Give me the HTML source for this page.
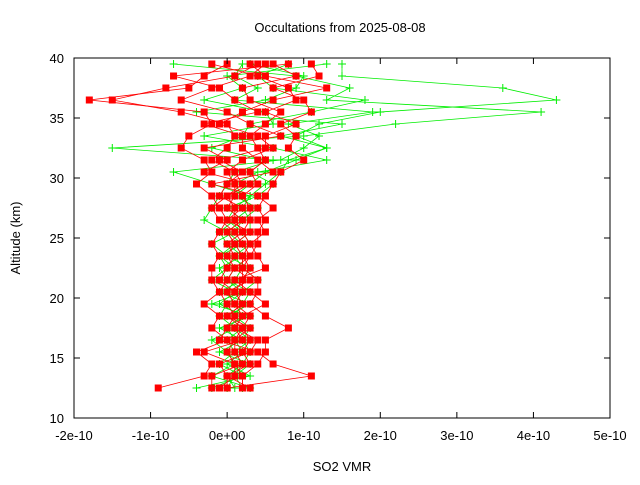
<!DOCTYPE html>
<html><head><meta charset="utf-8"><style>
body{margin:0;background:#fff;font-family:"Liberation Sans",sans-serif}
svg text{font-family:"Liberation Sans",sans-serif;font-size:13px;fill:#000}
</style></head><body>
<svg id="chart" width="640" height="480" xmlns="http://www.w3.org/2000/svg">
<text x="340" y="32" text-anchor="middle">Occultations from 2025-08-08</text>
<text x="342" y="471" text-anchor="middle">SO2 VMR</text>
<text transform="translate(20,238) rotate(-90)" text-anchor="middle">Altitude (km)</text>
<g id="series"></g>
<g id="axes"></g>
</svg>
<script>
const altitudes=[39.5,38.5,37.5,36.5,35.5,34.5,33.5,32.5,31.5,30.5,29.5,28.5,27.5,26.5,25.5,24.5,23.5,22.5,21.5,20.5,19.5,18.5,17.5,16.5,15.5,14.5,13.5,12.5];
const xTicks=[-2,-1,0,1,2,3,4,5];
const xTickLabels=["-2e-10","-1e-10","0e+00","1e-10","2e-10","3e-10","4e-10","5e-10"];
const yTicks=[10,15,20,25,30,35,40];
const red1=[0.0,-0.3,-0.5,-1.8,-0.3,-0.2,-0.5,-0.6,-0.3,-0.2,-0.4,-0.2,-0.1,0.0,-0.1,-0.2,-0.1,-0.2,-0.2,-0.1,-0.3,-0.1,-0.2,0.0,-0.4,-0.2,-0.3,-0.9];
const red2=[0.4,0.1,-0.8,-1.5,-0.6,0.0,0.1,0.0,-0.2,0.1,0.2,0.0,0.1,0.1,0.2,0.0,0.1,0.0,-0.1,0.1,0.2,0.0,0.3,0.1,0.1,0.2,-0.2,-0.2];
const red3=[0.6,0.9,0.2,0.3,0.7,0.5,0.3,0.4,0.5,0.3,0.4,0.2,0.3,0.3,0.2,0.3,0.2,0.3,0.2,0.2,0.1,0.3,0.2,0.3,0.2,0.3,0.0,0.0];
const red4=[1.1,1.2,0.6,1.0,1.1,0.7,0.9,0.8,1.0,0.7,0.6,0.5,0.4,0.5,0.4,0.4,0.3,0.2,0.4,0.4,0.3,0.5,0.8,0.5,0.5,0.4,0.2,0.2];
const red5=[0.3,0.5,1.3,0.6,0.2,-0.1,0.4,0.6,0.2,0.0,0.1,0.1,0.0,0.2,0.0,0.1,0.0,0.1,0.0,-0.1,0.0,0.1,0.0,-0.1,0.4,0.6,1.1,0.0];
const red6=[0.8,-0.7,-0.1,0.1,0.4,-0.3,0.2,0.2,0.4,0.6,-0.2,0.4,0.6,0.4,0.5,0.3,0.4,0.5,0.1,0.3,0.5,0.2,0.1,0.4,0.3,-0.1,0.0,0.3];
const red7=[0.5,0.3,-0.2,-0.6,0.0,0.3,0.7,-0.3,0.0,-0.3,0.3,0.0,-0.2,-0.1,0.1,0.2,0.3,0.1,0.3,0.0,0.1,0.2,0.1,0.2,-0.3,0.1,0.2,0.2];
const red8=[-0.2,0.4,0.8,0.9,0.5,0.9,0.5,0.5,-0.1,0.2,0.0,-0.1,0.2,0.0,0.3,0.1,0.2,0.2,0.2,0.1,0.2,0.0,0.2,0.1,0.0,0.1,0.1,-0.1];
const green1=[1.5,1.5,3.6,4.3,2.0,1.2,0.9,1.3,0.8,0.7,0.5,0.3,0.2,0.3,0.3,0.1,0.2,0.2,0.1,0.0,0.1,0.2,0.1,0.3,0.1,0.2,0.0,0.1];
const green2=[-0.7,0.9,1.6,1.3,4.1,2.2,1.0,-1.5,0.6,0.1,0.0,-0.1,-0.2,-0.3,0.0,0.2,-0.1,0.0,-0.2,0.1,-0.1,0.2,0.0,0.1,0.2,0.0,0.3,-0.4];
const green3=[0.2,0.1,0.4,0.1,1.9,0.8,1.2,1.0,0.7,-0.7,-0.2,0.3,0.1,0.0,0.2,0.3,0.1,0.2,0.4,0.2,0.0,-0.1,0.1,-0.2,0.0,0.1,-0.2,0.3];
const green4=[1.3,0.0,0.2,-0.3,0.5,0.6,-0.3,0.6,1.3,0.4,0.1,0.2,0.3,0.1,-0.1,0.0,0.2,-0.1,0.0,0.3,0.2,0.1,0.3,0.2,-0.1,0.3,0.1,0.0];
const green5=[0.8,0.4,0.6,1.8,1.1,0.3,0.2,-0.2,0.5,0.3,0.6,0.4,0.0,0.2,0.1,-0.2,0.0,0.3,0.2,-0.1,0.3,0.0,0.2,0.0,0.1,-0.1,0.2,-0.2];
const green6=[0.3,1.0,0.9,0.5,-0.4,1.5,0.7,1.3,0.9,0.5,0.3,0.1,0.4,0.2,0.0,0.1,-0.1,0.1,0.0,0.2,-0.2,0.3,-0.1,0.2,0.3,0.2,0.1,0.2];

const L=74,R=610,T=58,B=418;
const xs=v=>L+(v+2)/7*(R-L);
const ys=a=>B-(a-10)/30*(B-T);
const NS="http://www.w3.org/2000/svg";
const mk=(t,at,p)=>{const e=document.createElementNS(NS,t);for(const k in at)e.setAttribute(k,at[k]);p.appendChild(e);return e;};
const sg=document.getElementById('series');
function drawSeries(vals,color,kind,name){
  const g=mk('g',{},sg);
  
  
  const pts=vals.map((v,i)=>xs(v).toFixed(1)+','+ys(altitudes[i]).toFixed(1)).join(' ');
  const pl=mk('polyline',{points:pts,fill:'none',stroke:color,'stroke-width':0.8},g);
  
  
  vals.forEach((v,i)=>{
    const x=xs(v),y=ys(altitudes[i]);
    let m;
    if(kind==='sq'){m=mk('rect',{x:x-3.5,y:y-3.5,width:7,height:7,fill:color},g);}
    else{m=mk('path',{d:`M${x-4},${y}H${x+4}M${x},${y-4}V${y+4}`,stroke:color,'stroke-width':1},g);}
    
    
  });
}
[green1,green2,green3,green4,green5,green6].forEach((s,i)=>drawSeries(s,'#00ee00','plus','green-profile-'+(i+1)));
[red1,red2,red3,red4,red5,red6,red7,red8].forEach((s,i)=>drawSeries(s,'#ff0000','sq','red-profile-'+(i+1)));

const ax=document.getElementById('axes');
const fr=mk('rect',{x:L,y:T,width:R-L,height:B-T,fill:'none',stroke:'#000','stroke-width':1},ax);


xTicks.forEach((v,i)=>{
  const x=xs(v);
  mk('path',{d:`M${x},${B}v-6M${x},${T}v6`,stroke:'#000'},ax);
  const t=mk('text',{x:x,y:B+22,'text-anchor':'middle'},ax);
  t.textContent=xTickLabels[i];
  
  
});
yTicks.forEach(v=>{
  const y=ys(v);
  mk('path',{d:`M${L},${y}h6M${R},${y}h-6`,stroke:'#000'},ax);
  const t=mk('text',{x:L-10,y:y+5,'text-anchor':'end'},ax);
  t.textContent=v;
  
  
});
</script>
</body></html>
